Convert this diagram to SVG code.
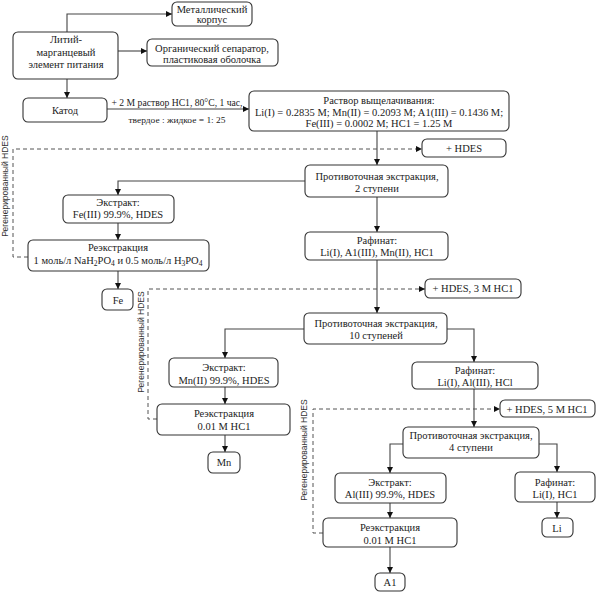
<svg xmlns="http://www.w3.org/2000/svg" width="596" height="594" viewBox="0 0 596 594">
<defs>
<marker id="ah" viewBox="0 0 10 10" refX="10" refY="5" markerWidth="6" markerHeight="6" orient="auto" markerUnits="userSpaceOnUse">
<path d="M0,0 L10,5 L0,10 z" fill="#111"/>
</marker>
<style>
.b{fill:#fff;stroke:#333;stroke-width:1.1}
.t{font-family:"Liberation Serif","Times New Roman",serif;font-size:10.5px;fill:#222;text-anchor:middle}
.c{fill:none;stroke:#444;stroke-width:1.1;marker-end:url(#ah)}
.d{fill:none;stroke:#555;stroke-width:1;stroke-dasharray:4,3;marker-end:url(#ah)}
.v{font-family:"Liberation Sans",Arial,sans-serif;font-size:8.5px;fill:#333;text-anchor:middle}
</style>
</defs>
<rect width="596" height="594" fill="#fff"/>
<g id="connectors">
<path class="c" d="M67,32 V14 H172"/>
<path class="c" d="M118,51 H147"/>
<path class="c" d="M67,79 V98"/>
<path class="c" d="M107,109 H249"/>
<path class="c" d="M377,131 V165"/>
<path class="d" d="M28,257 H13 V149 H422"/>
<path class="c" d="M305,181 H118 V195"/>
<path class="c" d="M118,223 V240"/>
<path class="c" d="M118,271 V289"/>
<path class="c" d="M377,197 V232"/>
<path class="c" d="M377,260 V313"/>
<path class="d" d="M157,419 H148 V289 H425"/>
<path class="c" d="M304,329 H225 V358"/>
<path class="c" d="M225,387 V404"/>
<path class="c" d="M225,435 V452"/>
<path class="c" d="M447,329 H474 V362"/>
<path class="c" d="M474,389 V427"/>
<path class="d" d="M323,533 H313 V409 H500"/>
<path class="c" d="M403,444 H390 V473"/>
<path class="c" d="M539,444 H557 V472"/>
<path class="c" d="M390,503 V518"/>
<path class="c" d="M390,547 V573"/>
<path class="c" d="M557,502 V518"/>
<text class="t" x="177" y="106" style="font-size:9.5px" textLength="131" lengthAdjust="spacingAndGlyphs">+ 2 M раствор HC1, 80°C, 1 час,</text>
<text class="t" x="177" y="123" style="font-size:9px" textLength="97" lengthAdjust="spacingAndGlyphs">твердое : жидкое = 1: 25</text>
<text class="v" transform="translate(8,186) rotate(-90)">Регенерированный HDES</text>
<text class="v" transform="translate(144,342) rotate(-90)">Регенерированный HDES</text>
<text class="v" transform="translate(307,450) rotate(-90)">Регенерированный HDES</text>
</g>
<g id="n_metal"><rect class="b" x="172" y="2" width="80" height="24" rx="5"/><text class="t" x="212" y="12.5">Металлический</text><text class="t" x="212" y="23">корпус</text></g>
<g id="n_battery"><rect class="b" x="13" y="32" width="105" height="47" rx="5"/><text class="t" x="66" y="43">Литий-</text><text class="t" x="66" y="56">марганцевый</text><text class="t" x="66" y="68">элемент питания</text></g>
<g id="n_sep"><rect class="b" x="147" y="39" width="131" height="27" rx="5"/><text class="t" x="212" y="52">Органический сепаратор,</text><text class="t" x="212" y="63">пластиковая оболочка</text></g>
<g id="n_cathode"><rect class="b" x="23" y="98" width="84" height="24" rx="5"/><text class="t" x="65" y="114">Катод</text></g>
<g id="n_leach"><rect class="b" x="249" y="91" width="260" height="40" rx="5"/><text class="t" x="379" y="103.5">Раствор выщелачивания:</text><text class="t" x="379" y="115.5">Li(I) = 0.2835 M; Mn(II) = 0.2093 M; A1(III) = 0.1436 M;</text><text class="t" x="379" y="127">Fe(III) = 0.0002 M; HC1 =  1.25 M</text></g>
<g id="n_hdes1"><rect class="b" x="422" y="139" width="84" height="18" rx="5"/><text class="t" x="464" y="152">+ HDES</text></g>
<g id="n_cc2"><rect class="b" x="305" y="165" width="143" height="32" rx="5"/><text class="t" x="377" y="180">Противоточная экстракция,</text><text class="t" x="377" y="192">2 ступени</text></g>
<g id="n_extfe"><rect class="b" x="63" y="195" width="111" height="28" rx="5"/><text class="t" x="118" y="206">Экстракт:</text><text class="t" x="118" y="218">Fe(III) 99.9%, HDES</text></g>
<g id="n_reextfe"><rect class="b" x="28" y="240" width="181" height="31" rx="5"/><text class="t" x="118" y="251">Реэкстракция</text><text class="t" x="118" y="264">1 моль/л NaH<tspan font-size="7.5" dy="2">2</tspan><tspan dy="-2">PO</tspan><tspan font-size="7.5" dy="2">4</tspan><tspan dy="-2"> и 0.5 моль/л H</tspan><tspan font-size="7.5" dy="2">3</tspan><tspan dy="-2">PO</tspan><tspan font-size="7.5" dy="2">4</tspan></text></g>
<g id="n_fe"><rect class="b" x="102" y="289" width="31" height="21" rx="5"/><text class="t" x="118" y="303.5">Fe</text></g>
<g id="n_raf1"><rect class="b" x="305" y="232" width="143" height="28" rx="5"/><text class="t" x="377" y="244">Рафинат:</text><text class="t" x="377" y="255.5">Li(I), A1(III), Mn(II), HC1</text></g>
<g id="n_hdes2"><rect class="b" x="425" y="279" width="96" height="19" rx="5"/><text class="t" x="473" y="292">+ HDES, 3 M HC1</text></g>
<g id="n_cc10"><rect class="b" x="304" y="313" width="143" height="31" rx="5"/><text class="t" x="376" y="327">Противоточная экстракция,</text><text class="t" x="376" y="339">10 ступеней</text></g>
<g id="n_extmn"><rect class="b" x="169" y="358" width="109" height="29" rx="5"/><text class="t" x="224" y="371">Экстракт:</text><text class="t" x="224" y="384">Mn(II) 99.9%, HDES</text></g>
<g id="n_reextmn"><rect class="b" x="157" y="404" width="133" height="31" rx="5"/><text class="t" x="224" y="417">Реэкстракция</text><text class="t" x="224" y="430">0.01 M HC1</text></g>
<g id="n_mn"><rect class="b" x="208" y="452" width="32" height="21" rx="5"/><text class="t" x="224" y="466">Mn</text></g>
<g id="n_raf2"><rect class="b" x="412" y="362" width="126" height="27" rx="5"/><text class="t" x="475" y="374">Рафинат:</text><text class="t" x="475" y="386">Li(I), Al(III), HCl</text></g>
<g id="n_hdes3"><rect class="b" x="500" y="400" width="95" height="17" rx="5"/><text class="t" x="547" y="412.5">+ HDES, 5 M HC1</text></g>
<g id="n_cc4"><rect class="b" x="403" y="427" width="136" height="31" rx="5"/><text class="t" x="471" y="439">Противоточная экстракция,</text><text class="t" x="471" y="451">4 ступени</text></g>
<g id="n_extal"><rect class="b" x="335" y="473" width="111" height="30" rx="5"/><text class="t" x="390" y="486">Экстракт:</text><text class="t" x="390" y="497.5">Al(III) 99.9%, HDES</text></g>
<g id="n_reextal"><rect class="b" x="323" y="518" width="134" height="29" rx="5"/><text class="t" x="390" y="531">Реэкстракция</text><text class="t" x="390" y="544">0.01 M HC1</text></g>
<g id="n_al"><rect class="b" x="375" y="573" width="30" height="18" rx="5"/><text class="t" x="390" y="586">A1</text></g>
<g id="n_raf3"><rect class="b" x="515" y="472" width="80" height="30" rx="5"/><text class="t" x="555" y="486">Рафинат:</text><text class="t" x="555" y="497.5">Li(I), HC1</text></g>
<g id="n_li"><rect class="b" x="542" y="518" width="31" height="19" rx="5"/><text class="t" x="557" y="531.5">Li</text></g>
</svg>
